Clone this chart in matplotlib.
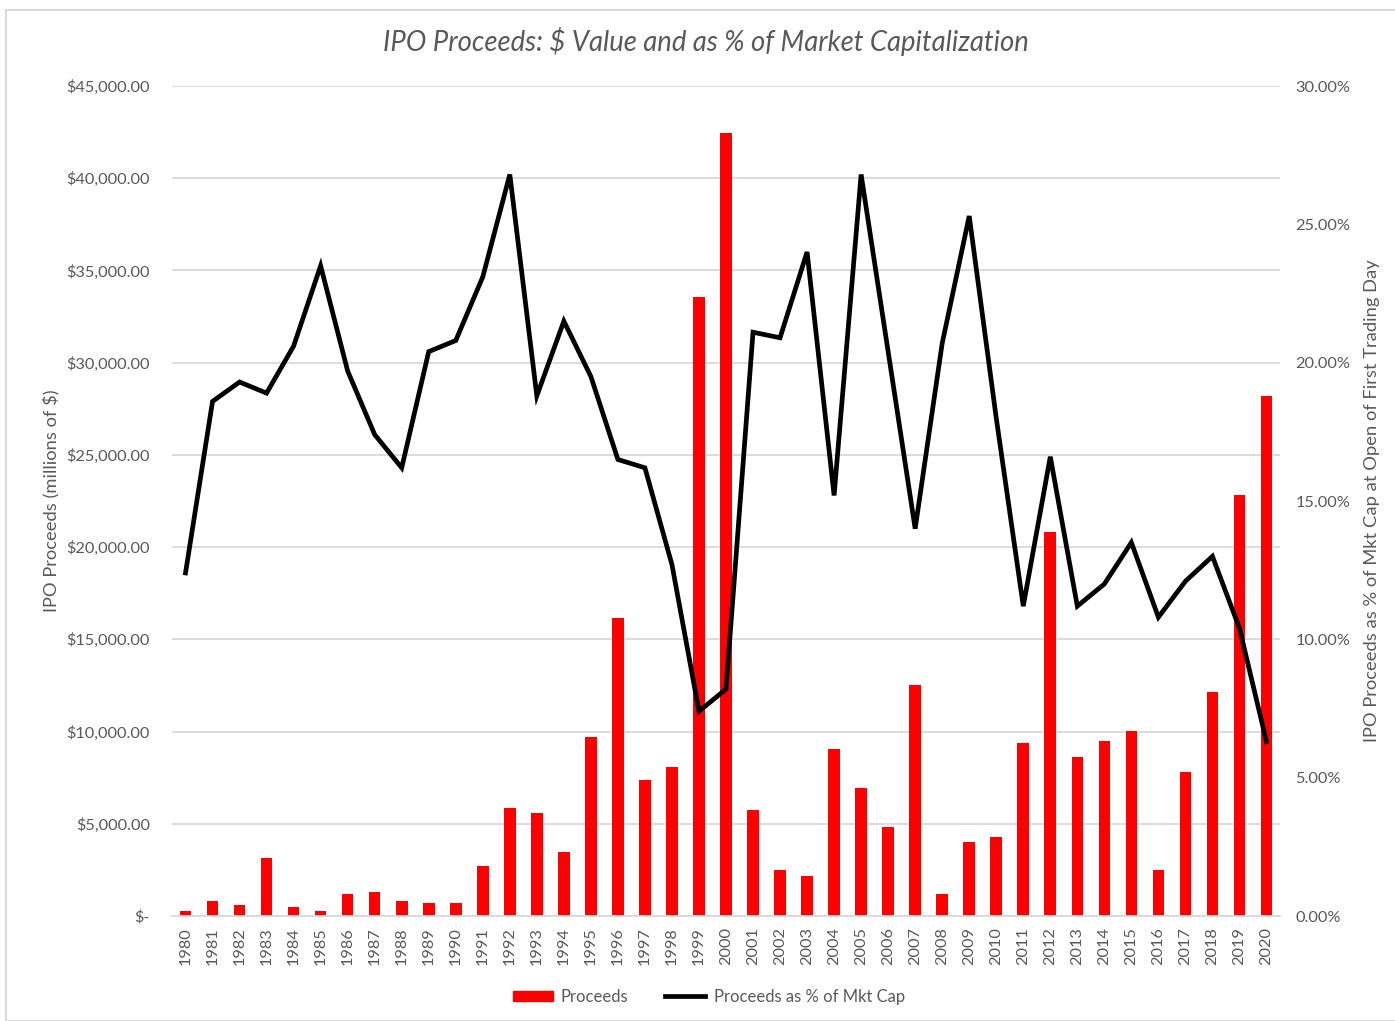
import matplotlib
matplotlib.use('Agg')
import matplotlib.pyplot as plt
from matplotlib.ticker import FuncFormatter, MultipleLocator
from matplotlib.patches import Rectangle
from matplotlib.lines import Line2D

# data
years = [str(y) for y in range(1980, 2021)]
proceeds = [270, 830, 610, 3160, 505, 270, 1180, 1290, 830, 720,
            720, 2730, 5840, 5600, 3490, 9720, 16180, 7390, 8060, 33560,
            42440, 5730, 2490, 2170, 9050, 6940, 4840, 12510, 1180, 4030,
            4270, 9380, 20820, 8600, 9510, 10050, 2490, 7820, 12160, 22830,
            28200]
pct_mktcap = [12.4, 18.6, 19.3, 18.9, 20.6, 23.5, 19.7, 17.4, 16.2, 20.4,
              20.8, 23.1, 26.8, 18.8, 21.5, 19.5, 16.5, 16.2, 12.7, 7.4,
              8.2, 21.1, 20.9, 24.0, 15.2, 26.8, 20.4, 14.0, 20.7, 25.3,
              18.0, 11.2, 16.6, 11.2, 12.0, 13.5, 10.8, 12.1, 13.0, 10.4,
              6.3]

plt.rcParams['font.family'] = ['Lato', 'DejaVu Sans']
grey = '#595959'

fig = plt.figure(figsize=(13.95, 10.21), dpi=100)
fig.patches.append(Rectangle((6/1395, 0), 1.0, 1 - 10/1021, transform=fig.transFigure,
                             fill=False, edgecolor='#d9d9d9', linewidth=1.5))

ax = fig.add_axes([172/1395, 1 - 916/1021, 1108/1395, 830/1021])
ax2 = ax.twinx()

x = list(range(len(years)))
ax.bar(x, proceeds, width=0.43, color='#ff0000', zorder=2)
ax2.plot(x, pct_mktcap, color='black', linewidth=3.4, solid_joinstyle='miter', zorder=3)

ax.set_xlim(-0.5, len(years) - 0.5)
ax.set_ylim(0, 45000)
ax2.set_ylim(0, 30)
ax.yaxis.set_major_locator(MultipleLocator(5000))
ax2.yaxis.set_major_locator(MultipleLocator(5))

def money(v, pos):
    if v == 0:
        return '$-'
    return '${:,.2f}'.format(v)

ax.yaxis.set_major_formatter(FuncFormatter(money))
ax2.yaxis.set_major_formatter(FuncFormatter(lambda v, p: '{:.2f}%'.format(v)))

ax.set_xticks(x)
ax.set_xticklabels(years, rotation=90, color=grey)
ax.grid(axis='y', color='#d9d9d9', linewidth=1.3, zorder=0)
ax.set_axisbelow(True)

for a in (ax, ax2):
    for s in a.spines.values():
        s.set_visible(False)
    a.tick_params(length=0, labelsize=11.8, labelcolor=grey)
ax.tick_params(axis='y', pad=16)
ax2.tick_params(axis='y', pad=11)
ax.tick_params(axis='x', pad=8)
ax.spines['bottom'].set_visible(True)
ax.spines['bottom'].set_color('#d9d9d9')
ax.spines['bottom'].set_linewidth(1.3)

ax.set_ylabel('IPO Proceeds (millions of $)', fontsize=13.2, color=grey, labelpad=4)
ax2.set_ylabel('IPO Proceeds as % of Mkt Cap at Open of First Trading Day',
               fontsize=13.2, color=grey, labelpad=10)

fig.text(0.506, 1 - 42/1021, 'IPO Proceeds: $ Value and as % of Market Capitalization',
         ha='center', va='center', fontsize=19.8, style='italic', color=grey)

handles = [Rectangle((0, 0), 1, 1, color='#ff0000'),
           Line2D([0], [0], color='black', linewidth=3.4)]
fig.legend(handles, ['Proceeds', 'Proceeds as % of Mkt Cap'], loc='center',
           bbox_to_anchor=(0.508, 1 - 997/1021), ncol=2, frameon=False,
           fontsize=12, labelcolor=grey, handlelength=2.4, handleheight=0.6,
           columnspacing=2.2, handletextpad=0.5)

fig.savefig('out.png', dpi=100)
